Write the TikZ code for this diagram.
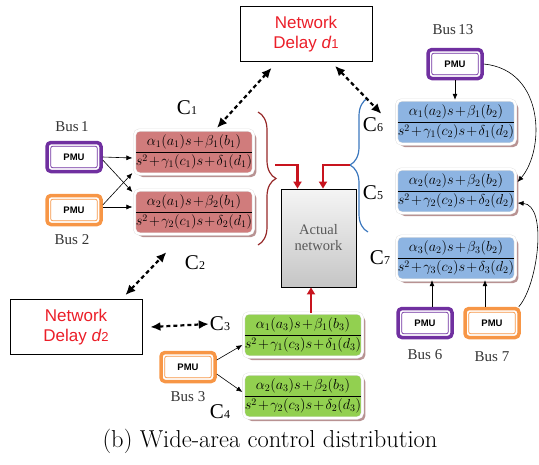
\documentclass[tikz,border=0pt]{standalone}
\usepackage{amsmath}
\usepackage{fontspec}
\newfontfamily\timesf{Liberation Serif}
\newfontfamily\arialf{Liberation Sans}
\usetikzlibrary{shadows,calc,arrows.meta,decorations.pathreplacing}
\definecolor{ctrlred}{RGB}{208,124,124}
\definecolor{ctrlblue}{RGB}{141,180,226}
\definecolor{ctrlgreen}{RGB}{146,208,80}
\definecolor{pmupurple}{RGB}{112,48,160}
\definecolor{pmuorange}{RGB}{247,150,70}
\definecolor{shadowbrown}{RGB}{184,146,146}
\definecolor{arrred}{RGB}{200,20,30}
\definecolor{bracered}{RGB}{150,40,40}
\definecolor{braceblue}{RGB}{60,120,190}
\definecolor{delayred}{RGB}{235,30,40}

\begin{document}
\begin{tikzpicture}[x=1pt, y=-1pt,
    ctrl/.style={rectangle, rounded corners=5pt, draw=gray!25, line width=0.4pt, double=white, double distance=2.2pt,
        minimum width=118pt, minimum height=44pt, inner sep=0pt, font=\fontsize{14.4}{17}\selectfont,
        drop shadow={shadow xshift=3pt, shadow yshift=-3pt, fill=shadowbrown, opacity=1}},
    pmu/.style={rectangle, rounded corners=4pt, draw=#1, line width=3.5pt, fill=white,
        minimum width=54pt, minimum height=29pt, font=\arialf\bfseries\fontsize{9.5}{10}\selectfont},
    delaybox/.style={draw, line width=0.8pt, minimum width=132pt, minimum height=55pt, align=center,
        text=delayred, font=\arialf\fontsize{17}{20}\selectfont},
    buslabel/.style={font=\timesf\fontsize{15}{17}\selectfont, text=black!80},
    clabel/.style={font=\timesf\fontsize{21}{21}\selectfont, inner sep=1pt},
    thinarr/.style={line width=0.6pt, -{Latex[length=6pt,width=5pt]}},
    dasharr/.style={line width=2.2pt, dash pattern=on 4pt off 3pt, {Latex[length=10pt,width=9pt]}-{Latex[length=10pt,width=9pt]}},
    redarr/.style={arrred, line width=2.5pt, -{Triangle[length=7pt,width=8pt]}},
    brace/.style={line width=1.2pt, decorate, decoration={brace, amplitude=18pt}}
]
\useasboundingbox (0,0) rectangle (539,464);

% delay boxes
\node[delaybox] (d1) at (306,34) {Network\\Delay \textit{d}{\fontsize{13}{13}\selectfont 1}};
\node[delaybox] (d2) at (76,327) {Network\\Delay \textit{d}{\fontsize{13}{13}\selectfont 2}};

% controllers
\foreach \i/\y in {1/152,2/212}
    \node[ctrl, fill=ctrlred] (k\i) at (194,\y) {$\medmuskip=1.5mu\relax \dfrac{\alpha_\i(a_1)s+\beta_\i(b_1)}{s^2+\gamma_\i(c_1)s+\delta_\i(d_1)}$};
\foreach \i/\y in {1/335,2/396}
    \node[ctrl, fill=ctrlgreen] (g\i) at (303,\y) {$\medmuskip=1.5mu\relax \dfrac{\alpha_\i(a_3)s+\beta_\i(b_3)}{s^2+\gamma_\i(c_3)s+\delta_\i(d_3)}$};
\foreach \i/\y in {1/122,2/191,3/258}
    \node[ctrl, fill=ctrlblue] (b\i) at (456,\y) {$\medmuskip=1.5mu\relax \dfrac{\alpha_\i(a_2)s+\beta_\i(b_2)}{s^2+\gamma_\i(c_2)s+\delta_\i(d_2)}$};

% PMUs
\foreach \p/\c/\x/\y in {p1/pmupurple/74/157, p2/pmuorange/74/210, p3/pmuorange/188/367,
                         p13/pmupurple/455/64, p6/pmupurple/425/323, p7/pmuorange/492/323} {
    \node[pmu=\c] (\p) at (\x,\y) {PMU};
    \draw[\c, line width=0.7pt, rounded corners=2pt] ($(\p.north west)+(5.5,5.5)$) rectangle ($(\p.south east)+(-5.5,-5.5)$);
}

% bus labels
\node[buslabel] (bus1) at (72,127) {Bus\,1};
\node[buslabel] (bus2) at (72,240) {Bus 2};
\node[buslabel] (bus3) at (188,397) {Bus 3};
\node[buslabel] (bus13) at (453,30) {Bus\,13};
\node[buslabel] (bus6) at (425,355) {Bus 6};
\node[buslabel] (bus7) at (492,357) {Bus 7};

% controller labels
\foreach \n/\x/\y in {1/187/108, 2/195/263, 3/220/324, 4/220/412, 5/373/193, 6/373/125, 7/380/258}
    \node[clabel] (c\n) at (\x,\y) {C{\fontsize{12}{12}\selectfont \n}};

% actual network
\node[draw, line width=0.8pt, top color=gray!8, bottom color=gray!45, minimum width=75pt, minimum height=98pt,
    align=center, text=black!65, font=\timesf\fontsize{14.5}{16}\selectfont] (net) at (318.5,238) {Actual\\network};

% braces
\draw[brace, bracered] (258,112) -- (258,245);
\draw[brace, braceblue] (368,232) -- (368,98);
\coordinate (rtip) at (275,165);
\coordinate (btip) at (350,165);
\draw[redarr] (rtip) -| ([xshift=-21pt]net.north);
\draw[redarr] (btip) -| ([xshift=4.5pt]net.north);
\draw[redarr] ([xshift=-7.5pt]net.south |- g1.north) -- ([xshift=-7.5pt]net.south);

% measurements
\draw[thinarr] ($(p1.east)+(0,0)$) -- ($(k1.west)+(-2,6)$);
\draw[thinarr] ($(p1.east)+(0,3)$) -- ($(k2.west)+(-2,-20)$);
\draw[thinarr] ($(p2.east)+(0,-5)$) -- ($(k1.west)+(-2,21)$);
\draw[thinarr] ($(p2.east)+(0,-3)$) -- ($(k2.west)+(-2,-5)$);
\draw[thinarr] ($(p3.east)+(0,-7)$) -- ($(g1.west)+(-1,10)$);
\draw[thinarr] ($(p3.east)+(0,7)$) -- ($(g2.west)+(-1,-4)$);
\draw[thinarr] (p13.south) -- (p13.south |- b1.north);
\draw[thinarr] ([xshift=7pt]p6.north) -- ([xshift=7pt]p6.north |- b3.south);
\draw[thinarr] ([xshift=-7pt]p7.north) -- ([xshift=-7pt]p7.north |- b3.south);
\draw[thinarr] (p13.east) .. controls (545,70) and (545,150) .. ($(b2.east)+(2,-9)$);
\draw[thinarr] ($(p7.north east)+(-2,0)$) .. controls (538,285) and (548,205) .. ($(b2.east)+(2,12)$);

% delays
\draw[dasharr] ($(d1.south west)+(32,6)$) -- ($(k1.north)+(23,-2)$);
\draw[dasharr] ($(d1.south)+(29,4)$) -- ($(b1.north west)+(-15,14)$);
\draw[dasharr] ($(d2.north east)+(-17,-4)$) -- ($(k2.south west)+(32,18)$);
\draw[dasharr] ($(d2.east)+(8,0)$) -- (c3.west);

\node[font=\fontsize{24.5}{28}\selectfont] (cap) at (270,441) {(b) Wide-area control distribution};
\end{tikzpicture}
\end{document}
